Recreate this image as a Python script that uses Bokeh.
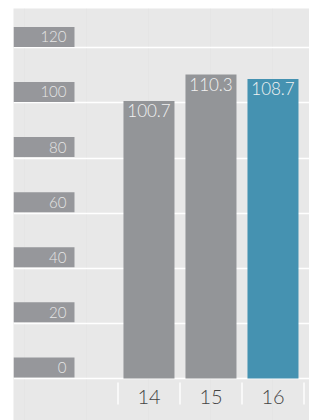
from bokeh.plotting import figure
from bokeh.models import Range1d, ColumnDataSource
from bokeh.core.properties import value
from bokeh.embed import file_html
from bokeh.resources import INLINE

categories = ["14", "15", "16"]
values = [100.7, 110.3, 108.7]
bar_colors = ["#939598", "#939598", "#4592b1"]
value_labels = ["100.7", "110.3", "108.7"]
yticks = [0, 20, 40, 60, 80, 100, 120]
ytick_labels = ["0", "20", "40", "60", "80", "100", "120"]

FONT = value("Lato Light")

p = figure(width=309, height=420, output_backend="svg", toolbar_location=None,
           x_range=Range1d(-1.185, 3.589), y_range=Range1d(-15.25, 134.3),
           x_axis_location=None, y_axis_location=None,
           background_fill_color="#e8e8e8", border_fill_color="white",
           outline_line_color=None, min_border=0, min_border_left=13, min_border_top=8)

# gridlines
p.hspan(y=yticks, line_color="white", line_width=1.6)

xs = [i + 1 for i in range(len(categories))]
src = ColumnDataSource(dict(x=xs, top=values, color=bar_colors, lab=value_labels, cat=categories))

p.vbar(x="x", top="top", bottom=0, width=0.8226, fill_color="color", line_color=None, source=src)
p.text(x="x", y="top", text="lab", source=src, text_align="center", text_baseline="top",
       y_offset=3, text_font=FONT, text_font_size="17px", text_color="#f2f2f2")

# category labels and separators
p.text(x="x", y=-6.6, text="cat", source=src, text_align="center", text_baseline="middle",
       text_font=FONT, text_font_size="20px", text_color="#444444")
bounds = [x - 0.5 for x in xs] + [xs[-1] + 0.5]
p.segment(x0=bounds, x1=bounds, y0=[-1.45] * len(bounds), y1=[-9.45] * len(bounds),
          line_color="#f8f8f8", line_width=2)

# y tick label boxes
ysrc = ColumnDataSource(dict(y=[v + 4 for v in yticks], lab=ytick_labels))
p.rect(x=-0.693, y="y", width=61, height=20, width_units="screen", height_units="screen",
       fill_color="#96979b", line_color=None, source=ysrc)
p.text(x=-0.33, y="y", text="lab", source=ysrc, text_align="right", text_baseline="middle",
       text_font=FONT, text_font_size="15px", text_color="#e6e6e6")

open("out.html", "w").write(file_html(p, INLINE))
